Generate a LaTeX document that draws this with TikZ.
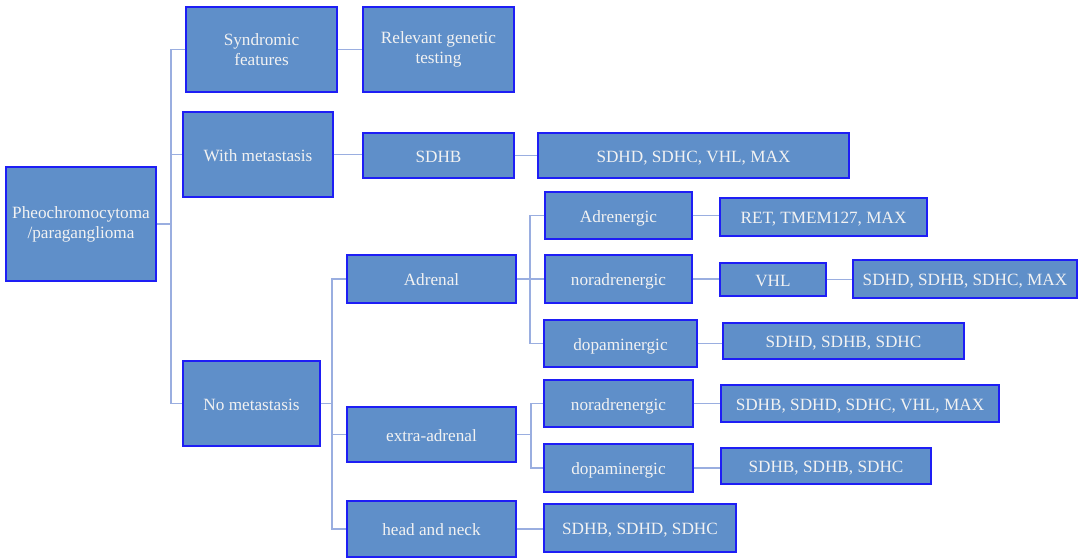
\documentclass[tikz,border=0pt]{standalone}
\usepackage{fontspec}
\setmainfont{Liberation Serif}
\usepackage{xcolor}
\usepackage{tikz}
\usetikzlibrary{positioning, calc}
\definecolor{boxfill}{HTML}{5F8FC9}
\definecolor{boxline}{HTML}{1E1EF5}
\definecolor{linkcol}{HTML}{9AAEE0}

\begin{document}
\begin{tikzpicture}[
    x=1pt, y=-1pt,
    every node/.style={font=\fontsize{17.2}{20}\selectfont},
    box/.style={rectangle, draw=boxline, fill=boxfill, line width=1.2pt,
                inner sep=0pt, align=center, text=white!95!black},
    onebox/.style={box, text height=15pt, text depth=2pt},
    genebox/.style={onebox},
    link/.style={draw=linkcol, line width=1.2pt},
]
    \useasboundingbox (0,0) rectangle (1080,558);

    % Root
    \node[box, minimum width=150, minimum height=114] (pheo) at (81,224) {Pheochromocytoma\\/paraganglioma};

    % First level
    \node[box, minimum width=151, minimum height=85] (synd) at (261.5,49.5) {Syndromic\\features};
    \node[onebox, minimum width=150, minimum height=85] (withmet) at (258,154.5) {With metastasis};
    \node[onebox, minimum width=137, minimum height=85] (nomet) at (251.5,403.5) {No metastasis};

    % Syndromic / metastatic
    \node[box, minimum width=151, minimum height=85] (reltest) at (438.5,49.5) {Relevant genetic\\testing};
    \node[genebox, minimum width=151, minimum height=45] (sdhb) at (438.5,155.5) {SDHB};
    \node[genebox, minimum width=311, minimum height=45] (metgenes) at (693.5,155.5) {SDHD, SDHC, VHL, MAX};

    % Location
    \node[onebox, minimum width=169, minimum height=48] (adrenal) at (431.5,279) {Adrenal};
    \node[onebox, minimum width=169, minimum height=55] (extra) at (431.5,434.5) {extra-adrenal};
    \node[onebox, minimum width=169, minimum height=56] (head) at (431.5,529) {head and neck};

    % Adrenal phenotypes
    \node[onebox, minimum width=147, minimum height=47] (adrenergic) at (618.5,215.5) {Adrenergic};
    \node[onebox, minimum width=147, minimum height=48] (noradr) at (618.5,279) {noradrenergic};
    \node[onebox, minimum width=153, minimum height=47] (dopa) at (620.5,343.5) {dopaminergic};
    \node[genebox, minimum width=207, minimum height=38] (retgenes) at (823.5,217) {RET, TMEM127, MAX};
    \node[genebox, minimum width=106, minimum height=33] (vhl) at (773,279.5) {VHL};
    \node[genebox, minimum width=224, minimum height=38] (noradrgenes) at (965,279) {SDHD, SDHB, SDHC, MAX};
    \node[genebox, minimum width=241, minimum height=36] (dopagenes) at (843.5,341) {SDHD, SDHB, SDHC};

    % Extra-adrenal phenotypes
    \node[onebox, minimum width=149, minimum height=47] (xnoradr) at (618.5,403.5) {noradrenergic};
    \node[onebox, minimum width=149, minimum height=48] (xdopa) at (618.5,468) {dopaminergic};
    \node[genebox, minimum width=278, minimum height=37] (xnoradrgenes) at (860,403.5) {SDHB, SDHD, SDHC, VHL, MAX};
    \node[genebox, minimum width=210, minimum height=36] (xdopagenes) at (826,466) {SDHB, SDHB, SDHC};
    \node[genebox, minimum width=192, minimum height=48] (headgenes) at (640,528) {SDHB, SDHD, SDHC};

    % Trunk coordinates
    \coordinate (trunk) at (171,224);
    \coordinate (loctrunk) at (332,403.5);
    \coordinate (adrtrunk) at (530,279);
    \coordinate (xtrunk) at (531,434.5);

    % Links
    \draw[link] (pheo.east) -- (trunk);
    \draw[link] (synd.west) -| (trunk) |- (nomet.west);
    \draw[link] (trunk |- withmet.west) -- (withmet.west);
    \draw[link] (synd.east) -- (reltest.west);
    \draw[link] (withmet.east) -- (sdhb.west |- withmet.east);
    \draw[link] (sdhb.east) -- (metgenes.west);

    \draw[link] (nomet.east) -- (loctrunk);
    \draw[link] (adrenal.west) -| (loctrunk) |- (head.west);
    \draw[link] (loctrunk |- extra.west) -- (extra.west);
    \draw[link] (head.east) -- (headgenes.west |- head.east);

    \draw[link] (adrenal.east) -- (adrtrunk);
    \draw[link] (adrenergic.west) -| (adrtrunk) |- (dopa.west);
    \draw[link] (adrtrunk) -- (noradr.west);
    \draw[link] (adrenergic.east) -- (retgenes.west |- adrenergic.east);
    \draw[link] (noradr.east) -- (vhl.west |- noradr.east);
    \draw[link] (vhl.east) -- (noradrgenes.west |- vhl.east);
    \draw[link] (dopa.east) -- (dopagenes.west |- dopa.east);

    \draw[link] (extra.east) -- (xtrunk);
    \draw[link] (xnoradr.west) -| (xtrunk) |- (xdopa.west);
    \draw[link] (xnoradr.east) -- (xnoradrgenes.west |- xnoradr.east);
    \draw[link] (xdopa.east) -- (xdopagenes.west |- xdopa.east);

\end{tikzpicture}
\end{document}
